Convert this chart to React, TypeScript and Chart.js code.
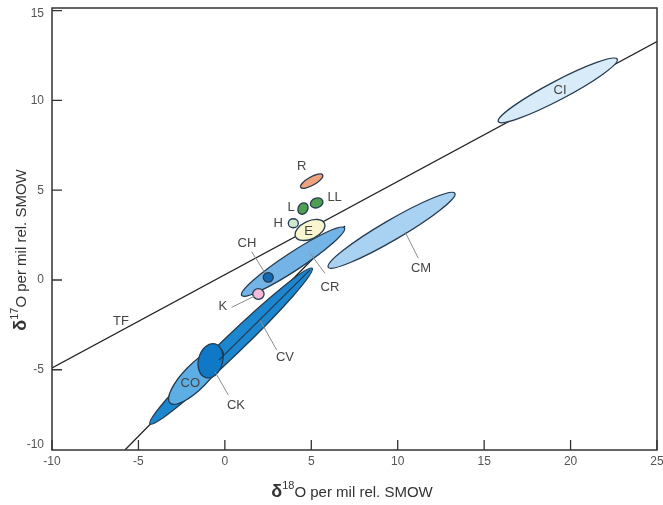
import React, { useEffect, useRef } from "react";
import { Chart, registerables } from "chart.js";

Chart.register(...registerables);

// ---- axis ranges / ticks ----
const xMin = -10;
const xMax = 25;
const yMin = -9.47;
const yMax = 15.15;
const tickStep = 5;
const xTickValues = [-10, -5, 0, 5, 10, 15, 20, 25];
const yTickValues = [-10, -5, 0, 5, 10, 15];

// ---- reference lines (data coordinates) ----
const tfLineX = [-10, 25];
const tfLineY = [-4.9, 13.28];
const ccamLineX = [-5.78, 6.95];
const ccamLineY = [-9.47, 3.01];
const cvInnerX = [-0.34, 4.93];
const cvInnerY = [-4.46, 0.56];

// ---- meteorite group fields: major-axis endpoints + axis ratio ----
const groupNames = ["CI", "CM", "CR", "CV", "CO", "CK", "CH", "K", "E", "H", "L", "LL", "R"];
const groupX1 = [15.82, 5.98, 0.97, -4.33, -3.17, -1.09, 2.22, 1.61, 4.09, 3.67, 4.35, 4.96, 4.39];
const groupY1 = [8.82, 0.71, -0.86, -8.02, -6.85, -5.44, 0.15, -0.78, 2.41, 3.16, 3.69, 4.17, 5.16];
const groupX2 = [22.7, 13.31, 6.92, 5.05, -0.17, -0.57, 2.8, 2.27, 5.76, 4.25, 4.69, 5.66, 5.66];
const groupY2 = [12.3, 4.83, 2.9, 0.65, -3.9, -3.56, 0.15, -0.78, 3.16, 3.16, 4.27, 4.41, 5.85];
const groupRatio = [0.14, 0.136, 0.145, 0.085, 0.33, 0.69, 0.95, 0.95, 0.56, 0.9, 0.8, 0.75, 0.33];
const groupColors = [
  "#d8ebf9", "#a9d1f2", "#74b3e5", "#1c87cf", "#5eaee6", "#0f79c8",
  "#1469b4", "#f2bcd8", "#f9f5cf", "#d3e6cf", "#4f9f52", "#4f9f52", "#f0a27f",
];

// ---- text labels ----
const labelText = ["TF", "CI", "R", "LL", "L", "H", "E", "CH", "K", "CR", "CM", "CV", "CO", "CK"];
const labelX = [-6.01, 19.39, 4.45, 6.35, 3.83, 3.08, 4.85, 1.28, -0.11, 6.08, 11.35, 3.48, -2.0, 0.64];
const labelY = [-2.32, 10.56, 6.35, 4.62, 4.04, 3.15, 2.7, 2.04, -1.48, -0.42, 0.65, -4.29, -5.75, -6.96];

// ---- leader lines ----
const leaderX1 = [1.55, 0.4, 3.0, 0.2, 5.79, 11.19];
const leaderY1 = [1.58, -1.52, -3.9, -6.41, 0.37, 1.21];
const leaderX2 = [2.32, 1.74, 2.03, -0.57, 4.93, 10.42];
const leaderY2 = [0.39, -0.89, -2.23, -5.11, 1.49, 2.69];

const FONT = '"Liberation Sans", Arial, sans-serif';

function seg(xs: number[], ys: number[]) {
  return xs.map((x, i) => ({ x, y: ys[i] }));
}

function drawRichTitle(ctx: CanvasRenderingContext2D, sup: string, rest: string) {
  const bold = `bold 18px ${FONT}`;
  const small = `11px ${FONT}`;
  const normal = `15px ${FONT}`;
  ctx.font = bold;
  const w1 = ctx.measureText("δ").width;
  ctx.font = small;
  const w2 = ctx.measureText(sup).width;
  ctx.font = normal;
  const w3 = ctx.measureText(rest).width;
  let x = -(w1 + w2 + w3) / 2;
  ctx.textAlign = "left";
  ctx.textBaseline = "alphabetic";
  ctx.font = bold;
  ctx.fillText("δ", x, 6);
  x += w1;
  ctx.font = small;
  ctx.fillText(sup, x, -2);
  x += w2;
  ctx.font = normal;
  ctx.fillText(rest, x, 6);
}

const overlayPlugin = {
  id: "overlay",
  afterDatasetDraw(chart: any, args: any) {
    const ds = chart.data.datasets[args.index];
    if (ds.label !== "CCAM") return;
    const ctx: CanvasRenderingContext2D = chart.ctx;
    const xs = chart.scales.x;
    const ys = chart.scales.y;
    ctx.save();
    for (let i = 0; i < groupNames.length; i++) {
      const px1 = xs.getPixelForValue(groupX1[i]);
      const py1 = ys.getPixelForValue(groupY1[i]);
      const px2 = xs.getPixelForValue(groupX2[i]);
      const py2 = ys.getPixelForValue(groupY2[i]);
      const cx = (px1 + px2) / 2;
      const cy = (py1 + py2) / 2;
      const rx = Math.hypot(px2 - px1, py2 - py1) / 2;
      const ry = rx * groupRatio[i];
      const rot = Math.atan2(py2 - py1, px2 - px1);
      ctx.beginPath();
      ctx.ellipse(cx, cy, rx, ry, rot, 0, Math.PI * 2);
      ctx.fillStyle = groupColors[i];
      ctx.fill();
      ctx.lineWidth = 1.3;
      ctx.strokeStyle = "#243a4e";
      ctx.stroke();
    }
    ctx.restore();
  },
  afterDatasetsDraw(chart: any) {
    const ctx: CanvasRenderingContext2D = chart.ctx;
    const xs = chart.scales.x;
    const ys = chart.scales.y;
    ctx.save();
    ctx.font = `13px ${FONT}`;
    ctx.fillStyle = "#454545";
    ctx.textAlign = "center";
    ctx.textBaseline = "middle";
    for (let i = 0; i < labelText.length; i++) {
      ctx.fillText(labelText[i], xs.getPixelForValue(labelX[i]), ys.getPixelForValue(labelY[i]));
    }
    ctx.restore();
  },
  afterDraw(chart: any) {
    const ctx: CanvasRenderingContext2D = chart.ctx;
    const { left, right, top, bottom } = chart.chartArea;
    const xs = chart.scales.x;
    const ys = chart.scales.y;
    ctx.save();
    ctx.strokeStyle = "#333";
    ctx.lineWidth = 1.5;
    ctx.strokeRect(left, top, right - left, bottom - top);
    ctx.lineWidth = 1.3;
    ctx.beginPath();
    xTickValues.forEach((v) => {
      const px = xs.getPixelForValue(v);
      ctx.moveTo(px, bottom);
      ctx.lineTo(px, bottom - 10);
    });
    yTickValues.forEach((v) => {
      const py = ys.getPixelForValue(v);
      if (py < top || py > bottom) return;
      ctx.moveTo(left, py);
      ctx.lineTo(left + 10, py);
    });
    ctx.stroke();
    ctx.fillStyle = "#555";
    ctx.font = `12px ${FONT}`;
    // x tick labels
    ctx.textAlign = "center";
    ctx.textBaseline = "middle";
    xTickValues.forEach((v) => {
      ctx.fillText(String(v), xs.getPixelForValue(v), bottom + 12);
    });
    // y tick labels (kept inside the frame's vertical extent, as in the figure)
    ctx.textAlign = "right";
    yTickValues.forEach((v) => {
      let py = ys.getPixelForValue(v);
      py = Math.min(Math.max(py, top + 6), bottom - 5);
      ctx.fillText(String(v), left - 8, py);
    });
    ctx.fillStyle = "#333";
    // x title
    ctx.save();
    ctx.translate(352, 491);
    drawRichTitle(ctx, "18", "O per mil rel. SMOW");
    ctx.restore();
    // y title
    ctx.save();
    ctx.translate(20, 250);
    ctx.rotate(-Math.PI / 2);
    drawRichTitle(ctx, "17", "O per mil rel. SMOW");
    ctx.restore();
    ctx.restore();
  },
};

export default function App() {
  const ref = useRef<HTMLCanvasElement | null>(null);
  useEffect(() => {
    if (!ref.current) return;
    const lineStyle = {
      showLine: true,
      pointRadius: 0,
      pointHoverRadius: 0,
      fill: false,
      tension: 0,
    };
    const datasets: any[] = [
      { ...lineStyle, label: "TF", data: seg(tfLineX, tfLineY), borderColor: "#222", borderWidth: 1.3, order: 3 },
      { ...lineStyle, label: "CCAM", data: seg(ccamLineX, ccamLineY), borderColor: "#222", borderWidth: 1.3, order: 2 },
      { ...lineStyle, label: "CVinner", data: seg(cvInnerX, cvInnerY), borderColor: "#1d3850", borderWidth: 1.2, order: 1 },
    ];
    leaderX1.forEach((_, i) => {
      datasets.push({
        ...lineStyle,
        label: "leader" + i,
        data: [
          { x: leaderX1[i], y: leaderY1[i] },
          { x: leaderX2[i], y: leaderY2[i] },
        ],
        borderColor: "#8c8c8c",
        borderWidth: 1,
        order: 1,
      });
    });
    const chart = new Chart(ref.current, {
      type: "scatter",
      data: { datasets },
      options: {
        responsive: false,
        animation: false,
        events: [],
        layout: { padding: { top: 8, right: 6, left: 0, bottom: 0 } },
        plugins: { legend: { display: false }, tooltip: { enabled: false }, title: { display: false } },
        scales: {
          x: {
            type: "linear",
            min: xMin,
            max: xMax,
            ticks: { display: false, stepSize: tickStep },
            grid: { display: false, drawTicks: false },
            border: { display: false },
            afterFit: (s: any) => {
              s.height = 55;
            },
          },
          y: {
            type: "linear",
            min: yMin,
            max: yMax,
            ticks: { display: false, stepSize: tickStep },
            grid: { display: false, drawTicks: false },
            border: { display: false },
            afterFit: (s: any) => {
              s.width = 52;
            },
          },
        },
      } as any,
      plugins: [overlayPlugin],
    });
    return () => chart.destroy();
  }, []);
  return (
    <div style={{ position: "fixed", left: 0, top: 0, width: 663, height: 505, background: "#fff" }}>
      <canvas ref={ref} width={663} height={505} />
    </div>
  );
}
